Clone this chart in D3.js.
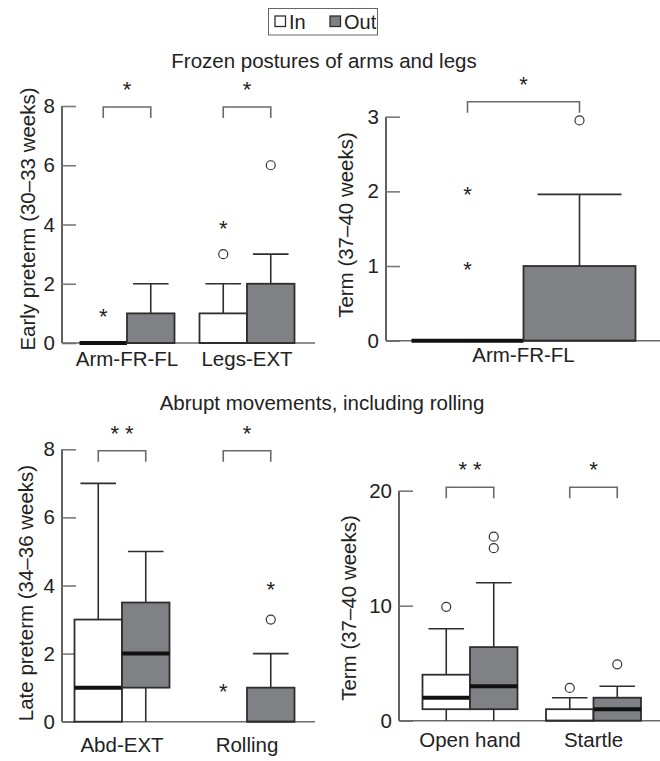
<!DOCTYPE html>
<html><head><meta charset="utf-8">
<script src="https://cdn.jsdelivr.net/npm/d3@7"></script>
<style>
body{margin:0;background:#fff;}
svg{display:block;font-family:"Liberation Sans",Arial,sans-serif;}
</style></head><body>
<svg id="chart" width="660" height="761"></svg>
<script>
// ---------- DATA ----------
const groups = ["In", "Out"];
const titleTop = "Frozen postures of arms and legs";
const titleBottom = "Abrupt movements, including rolling";

// box stats: [lower whisker, q1, median, q3, upper whisker]; null = no box drawn
// Panel A: early preterm, frozen postures
const aCategories = ["Arm-FR-FL", "Legs-EXT"];
const aTicks = [0, 2, 4, 6, 8];
const aIn = [[0, 0, 0, 0, 0], [0, 0, 0, 1, 2]];
const aOut = [[0, 0, 0, 1, 2], [0, 0, 0, 2, 3]];
const aInOutliers = [[], [3]];
const aOutOutliers = [[], [6]];
const aInExtremes = [[1], [4]];
const aOutExtremes = [[], []];
const aSig = ["*", "*"];

// Panel B: term, frozen postures
const bCategories = ["Arm-FR-FL"];
const bTicks = [0, 1, 2, 3];
const bIn = [[0, 0, 0, 0, 0]];
const bOut = [[0, 0, 0, 1, 1.96]];
const bInOutliers = [[]];
const bOutOutliers = [[2.95]];
const bInExtremes = [[1, 2]];
const bOutExtremes = [[]];
const bSig = ["*"];

// Panel C: late preterm, abrupt movements
const cCategories = ["Abd-EXT", "Rolling"];
const cTicks = [0, 2, 4, 6, 8];
const cIn = [[0, 0, 1, 3, 7], null];
const cOut = [[0, 1, 2, 3.5, 5], [0, 0, 0, 1, 2]];
const cInOutliers = [[], []];
const cOutOutliers = [[], [3]];
const cInExtremes = [[], [1]];
const cOutExtremes = [[], [4]];
const cSig = ["* *", "*"];

// Panel D: term, abrupt movements
const dCategories = ["Open hand", "Startle"];
const dTicks = [0, 10, 20];
const dIn = [[0, 1, 2, 4, 8], [0, 0, 0, 1, 2]];
const dOut = [[0, 1, 3, 6.4, 12], [0, 0, 1, 2, 3]];
const dInOutliers = [[9.9], [2.85]];
const dOutOutliers = [[15, 16], [4.9]];
const dInExtremes = [[], []];
const dOutExtremes = [[], []];
const dSig = ["* *", "*"];

// ---------- LAYOUT ----------
const svg = d3.select("#chart");
const outFill = "#808185";
const boxStroke = "#2e2e2e";
const FS = 20.5;
const txt = "#222";

const panels = [
  {cats: aCategories, ticks: aTicks, max: 8, inS: aIn, outS: aOut, inO: aInOutliers, outO: aOutOutliers, inE: aInExtremes, outE: aOutExtremes, sig: aSig,
   title: "Early preterm (30\u201333 weeks)", axisX: 62, right: 315, y0: 343, y1: 106, band: [67, 307], boxW: 47.5,
   bracketY: 107, labelDy: 23, titleX: 27, titleY: 219},
  {cats: bCategories, ticks: bTicks, max: 3, inS: bIn, outS: bOut, inO: bInOutliers, outO: bOutOutliers, inE: bInExtremes, outE: bOutExtremes, sig: bSig,
   title: "Term (37\u201340 weeks)", axisX: 386, right: 660, y0: 340.7, y1: 116.7, band: [411, 636], boxW: 112,
   bracketY: 101.7, labelDy: 21, titleX: 345, titleY: 225},
  {cats: cCategories, ticks: cTicks, max: 8, inS: cIn, outS: cOut, inO: cInOutliers, outO: cOutOutliers, inE: cInExtremes, outE: cOutExtremes, sig: cSig,
   title: "Late preterm (34\u201336 weeks)", axisX: 62, right: 315, y0: 721.7, y1: 449.3, band: [59.5, 309.5], boxW: 47.5,
   bracketY: 450.7, labelDy: 30, titleX: 25, titleY: 593},
  {cats: dCategories, ticks: dTicks, max: 20, inS: dIn, outS: dOut, inO: dInOutliers, outO: dOutOutliers, inE: dInExtremes, outE: dOutExtremes, sig: dSig,
   title: "Term (37\u201340 weeks)", axisX: 399, right: 660, y0: 720.7, y1: 490.7, band: [408.25, 655.25], boxW: 47.5,
   bracketY: 487.3, labelDy: 26, titleX: 348, titleY: 608}
];

// ---------- TITLES & LEGEND ----------
svg.append("text").attr("x", 324).attr("y", 68).attr("text-anchor", "middle")
  .attr("font-size", FS).attr("fill", txt).text(titleTop);
svg.append("text").attr("x", 322).attr("y", 410).attr("text-anchor", "middle")
  .attr("font-size", FS).attr("fill", txt).text(titleBottom);

const leg = svg.append("g");
leg.append("rect").attr("x", 268.5).attr("y", 8.5).attr("width", 109).attr("height", 26.5)
  .attr("fill", "none").attr("stroke", "#666").attr("stroke-width", 1);
const legX = d3.scalePoint().domain(groups).range([275, 330]);
groups.forEach(g => {
  leg.append("rect").attr("x", legX(g)).attr("y", 16).attr("width", 10.5).attr("height", 10.5)
    .attr("fill", g === "In" ? "#fff" : outFill).attr("stroke", boxStroke).attr("stroke-width", 1.3);
  leg.append("text").attr("x", legX(g) + 14).attr("y", 29).attr("font-size", 20).attr("fill", txt).text(g);
});

// ---------- PANELS ----------
panels.forEach(p => {
  const g = svg.append("g");
  const y = d3.scaleLinear().domain([0, p.max]).range([p.y0, p.y1]);
  const x = d3.scaleBand().domain(p.cats).range(p.band).padding(0);
  const sub = d3.scaleBand().domain(groups).range([-p.boxW, p.boxW]).padding(0);
  const cx = c => x(c) + x.bandwidth() / 2;

  // y axis via d3.axisRight (ticks point inward)
  const ax = g.append("g").attr("transform", `translate(${p.axisX},0)`)
    .call(d3.axisRight(y).tickValues(p.ticks).tickSize(14).tickFormat(d3.format("d")));
  ax.select(".domain").attr("stroke", "#3a3a3a").attr("stroke-width", 1.6).attr("d", `M0,${y(p.max)}V${y(0)}`);
  ax.selectAll(".tick line").attr("stroke", "#7a7a7a").attr("stroke-width", 1.6);
  ax.selectAll(".tick text").attr("x", -7).attr("text-anchor", "end").attr("font-size", FS)
    .attr("font-family", "Liberation Sans, Arial, sans-serif").attr("fill", txt);

  // baseline
  g.append("line").attr("x1", p.axisX).attr("x2", p.right).attr("y1", y(0)).attr("y2", y(0))
    .attr("stroke", "#6a6a6a").attr("stroke-width", 1.6);

  // y title
  g.append("text").attr("transform", `translate(${p.titleX},${p.titleY}) rotate(-90)`)
    .attr("text-anchor", "middle").attr("dominant-baseline", "central")
    .attr("font-size", FS).attr("fill", txt).text(p.title);

  // category labels
  p.cats.forEach(c => {
    g.append("text").attr("x", cx(c)).attr("y", y(0) + p.labelDy).attr("text-anchor", "middle")
      .attr("font-size", FS).attr("fill", txt).text(c);
  });

  // boxes
  p.cats.forEach((c, i) => {
    groups.forEach(grp => {
      const s = (grp === "In" ? p.inS : p.outS)[i];
      const left = cx(c) + sub(grp);
      const mid = left + sub.bandwidth() / 2;
      const w = sub.bandwidth();
      const capW = w * 0.75;
      const fill = grp === "In" ? "#fff" : outFill;
      if (s) {
        const [lo, q1, med, q3, hi] = s;
        if (hi > q3) {
          g.append("line").attr("x1", mid).attr("x2", mid).attr("y1", y(q3)).attr("y2", y(hi))
            .attr("stroke", boxStroke).attr("stroke-width", 1.6);
          g.append("line").attr("x1", mid - capW / 2).attr("x2", mid + capW / 2).attr("y1", y(hi)).attr("y2", y(hi))
            .attr("stroke", boxStroke).attr("stroke-width", 1.6);
        }
        if (lo < q1) {
          g.append("line").attr("x1", mid).attr("x2", mid).attr("y1", y(q1)).attr("y2", y(lo))
            .attr("stroke", boxStroke).attr("stroke-width", 1.6);
        }
        if (q3 > q1) {
          g.append("rect").attr("x", left).attr("y", y(q3)).attr("width", w).attr("height", y(q1) - y(q3))
            .attr("fill", fill).attr("stroke", boxStroke).attr("stroke-width", 1.8);
        }
        const thick = (med > q1 && med < q3) || q1 === q3;
        g.append("line").attr("x1", left).attr("x2", left + w).attr("y1", y(med)).attr("y2", y(med))
          .attr("stroke", thick ? "#111" : boxStroke).attr("stroke-width", thick ? 4 : 1.8);
      }
      // outliers (circles)
      (grp === "In" ? p.inO : p.outO)[i].forEach(v => {
        g.append("circle").attr("cx", mid).attr("cy", y(v)).attr("r", 4.5)
          .attr("fill", "#fff").attr("stroke", "#333").attr("stroke-width", 1.2);
      });
      // extremes (asterisks)
      (grp === "In" ? p.inE : p.outE)[i].forEach(v => {
        g.append("text").attr("x", mid).attr("y", y(v) + 11).attr("text-anchor", "middle")
          .attr("font-size", 22).attr("fill", txt).text("*");
      });
    });
    // significance bracket
    const xl = cx(c) + sub("In") + sub.bandwidth() / 2;
    const xr = cx(c) + sub("Out") + sub.bandwidth() / 2;
    g.append("path").attr("d", `M${xl},${p.bracketY + 11}V${p.bracketY}H${xr}V${p.bracketY + 11}`)
      .attr("fill", "none").attr("stroke", "#6a6a6a").attr("stroke-width", 1.6);
    g.append("text").attr("x", (xl + xr) / 2).attr("y", p.bracketY - 10).attr("text-anchor", "middle")
      .attr("font-size", 22).attr("fill", txt).text(p.sig[i]);
  });
});
</script>
</body></html>
